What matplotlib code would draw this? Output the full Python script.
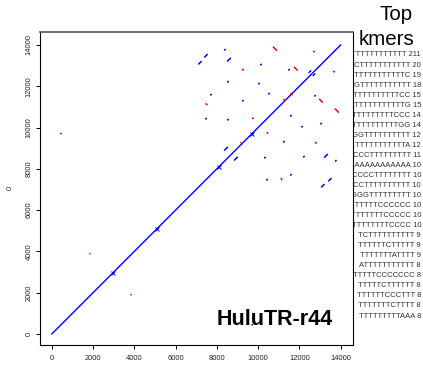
import matplotlib as mpl
mpl.use('Agg')
import matplotlib.pyplot as plt

plt.rcParams['font.family'] = ['Liberation Sans', 'DejaVu Sans']

W, H = 423, 368

# self dotplot: main diagonal + short repeat hits (centre x, centre y, length)
diag_start = 0
diag_end = 14000

blue_x = [8390, 7470, 7180, 8590, 10140, 11500, 12510, 8540, 10040, 7710, 10530,
          9260, 7470, 8540, 8440, 437,
          13770, 13480, 13140, 13290, 13050, 12760, 12710, 12220, 12130, 11590,
          11590, 11250, 10430, 10330, 8920, 9709]
blue_y = [13770, 13480, 13140, 13290, 13050, 12800, 12710, 12220, 12130, 11590, 11640,
          11300, 10430, 10380, 8970, 9709,
          8390, 7470, 7180, 8630, 10190, 11540, 12560, 8590, 10040, 7710,
          10570, 9310, 7470, 8540, 8490, 437]
blue_len = [70, 160, 160, 180, 70, 70, 120, 70, 70, 70, 70,
            70, 70, 70, 180, 50,
            70, 160, 160, 180, 70, 70, 120, 70, 70, 70,
            70, 70, 70, 70, 180, 50]

# small crossing hits sitting on the diagonal
cross_pos = [2961, 5097, 8100, 9680]

red_x = [10820, 12710, 9260, 11830, 9740, 7500, 1845,
         13820, 13680, 12800, 13050, 10450, 11130, 3835,
         9200, 11280, 11620]
red_y = [13820, 13680, 12800, 12850, 10450, 11130, 3883,
         10820, 12710, 9260, 11300, 9740, 7500, 1893,
         9240, 11330, 11620]
red_len = [200, 70, 80, 180, 70, 80, 50,
           200, 70, 80, 180, 70, 80, 50,
           100, 100, 100]

kmers = ['TTTTTTTTTTTT', 'CTTTTTTTTTTT', 'TTTTTTTTTTTC', 'GTTTTTTTTTTT',
         'TTTTTTTTTTCC', 'TTTTTTTTTTTG', 'TTTTTTTTTCCC', 'TTTTTTTTTTGG',
         'GGTTTTTTTTTT', 'TTTTTTTTTTTA', 'CCCTTTTTTTTT', 'CAAAAAAAAAAA',
         'CCCCTTTTTTTT', 'CCTTTTTTTTTT', 'GGGTTTTTTTTT', 'TTTTTTCCCCCC',
         'TTTTTTTCCCCC', 'TTTTTTTTCCCC', 'TCTTTTTTTTTT', 'TTTTTTCTTTTT',
         'TTTTTTTATTTT', 'ATTTTTTTTTTT', 'TTTTTCCCCCCC', 'TTTTTCTTTTTT',
         'TTTTTTCCCTTT', 'TTTTTTTCTTTT', 'TTTTTTTTTAAA']
counts = [211, 20, 19, 18, 15, 15, 14, 14, 12, 12, 11, 10, 10, 10, 10, 10,
          10, 10, 9, 9, 9, 8, 8, 8, 8, 8, 8]

ticks = list(range(0, 14001, 2000))

fig = plt.figure(figsize=(W / 100, H / 100), dpi=100)
ax = fig.add_axes([40 / W, 1 - 345 / H, 313 / W, 313 / H])
ax.set_facecolor('white')

ax.plot([diag_start, diag_end], [diag_start, diag_end], color='#0000ff', lw=1.0)

for x, y, l in zip(blue_x, blue_y, blue_len):
    h = l / 2
    ax.plot([x - h, x + h], [y - h, y + h], color='#0000ff', lw=1.1,
            solid_capstyle='butt')
ax.plot(cross_pos, cross_pos, ls='none', marker='x', ms=2.6, mew=0.7,
        color='#0000ff')
for x, y, l in zip(red_x, red_y, red_len):
    h = l / 2
    ax.plot([x - h, x + h], [y + h, y - h], color='#ff0000', lw=1.1,
            solid_capstyle='butt')

ax.set_xlim(-580, 14600)
ax.set_ylim(-540, 14630)
ax.set_xticks(ticks)
ax.set_yticks(ticks)
ax.tick_params(direction='out', length=3, width=0.7, labelsize=5.4, pad=4,
               labelcolor='#222222')
ax.tick_params(axis='y', pad=2.5)
for lab in ax.get_yticklabels():
    lab.set_rotation(90)
    lab.set_va('center')
for s in ax.spines.values():
    s.set_linewidth(0.8)
ax.spines['top'].set_color('#555555')
ax.spines['top'].set_linewidth(1.2)

ax.text(333 / W, 1 - 325 / H, 'HuluTR-r44', transform=fig.transFigure,
        ha='right', va='baseline', fontsize=15.5, fontweight='bold')

fig.text(10 / W, 1 - 188 / H, '0', rotation=90, ha='center', va='center',
         fontsize=5.4, color='#222222')

# legend panel on the right, its left part hidden behind the plot
fig.text(413 / W, 1 - 20 / H, 'Top', ha='right', va='baseline', fontsize=14.8,
         zorder=-1)
fig.text(414 / W, 1 - 45 / H, 'kmers', ha='right', va='baseline', fontsize=14.8,
         zorder=-1)
for i, (k, c) in enumerate(zip(kmers, counts)):
    y = 55 + i * (316 - 55) / (len(kmers) - 1)
    fig.text(421 / W, 1 - y / H, '%s %d' % (k, c), ha='right', va='center',
             fontsize=5.5, color='#333333', zorder=-1)

fig.savefig('out.png', dpi=100)
